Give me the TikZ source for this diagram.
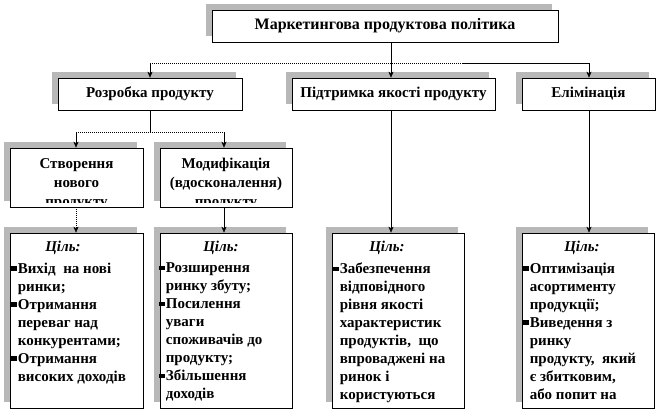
\documentclass[tikz,border=0pt]{standalone}
\usepackage{fontspec}
\setmainfont{Liberation Serif}
\usetikzlibrary{arrows.meta,positioning,shadows}

\newcommand{\boxfont}{\fontsize{15}{18}\selectfont\bfseries}
\newcommand{\topfont}{\fontsize{16}{18}\selectfont\bfseries}
\newcommand{\subfont}{\fontsize{15}{19}\selectfont\bfseries}
\newcommand{\blt}{\llap{\rule[2.5pt]{6pt}{4.5pt}\hspace{1pt}}}

\begin{document}
\begin{tikzpicture}[x=1pt, y=-1pt, >={Stealth[length=6pt,width=5pt]},
    box/.style={draw, line width=0.7pt, fill=white, inner sep=0pt, font=\boxfont,
        drop shadow={shadow xshift=-6pt, shadow yshift=6pt, fill=black!28, opacity=1}},
    head/.style={inner sep=0pt, font=\boxfont\itshape},
    list/.style={inner sep=0pt, align=left, anchor=north west, font=\boxfont},
    dots/.style={dash pattern=on 1pt off 1pt}]
    \useasboundingbox (0,0) rectangle (657,410);

    % top and second level
    \node [box, font=\topfont, minimum width=346pt, minimum height=32pt] (mpp) at (385,26) {Маркетингова продуктова політика};
    \node [box, minimum width=184pt, minimum height=32pt] (dev) at (150,94) {Розробка продукту};
    \node [box, minimum width=203pt, minimum height=32pt] (qual) at (393.5,94) {Підтримка якості продукту};
    \node [box, minimum width=133pt, minimum height=32pt] (elim) at (588.5,94) {Елімінація};

    % third level (text cut by the frame)
    \node [box, minimum width=133pt, minimum height=59pt,
        path picture={\clip ([yshift=5pt]path picture bounding box.south west) rectangle (path picture bounding box.north east);
            \node[inner sep=0pt, align=center, anchor=north, font=\subfont]
            at ([yshift=-6pt]path picture bounding box.north) {Створення\\нового\\продукту};}] (newp) at (76.5,177.5) {};
    \node [box, minimum width=132pt, minimum height=59pt,
        path picture={\clip ([yshift=5pt]path picture bounding box.south west) rectangle (path picture bounding box.north east);
            \node[inner sep=0pt, align=center, anchor=north, font=\subfont]
            at ([yshift=-6pt]path picture bounding box.north) {Модифікація\\(вдосконалення)\\продукту};}] (modp) at (226,177.5) {};

    % goals
    \node [box, minimum width=133pt, minimum height=175pt] (g1) at (76.5,320.5) {};
    \node [box, minimum width=132pt, minimum height=175pt] (g2) at (226,320.5) {};
    \node [box, minimum width=132pt, minimum height=175pt] (g3) at (398,320.5) {};
    \node [box, minimum width=132pt, minimum height=175pt] (g4) at (588,320.5) {};

    \node [head] (g1h) at (63,248) {Ціль:};
    \node [head] (g2h) at (221,248) {Ціль:};
    \node [head] (g3h) at (387,248) {Ціль:};
    \node [head] (g4h) at (582,248) {Ціль:};

    \node [list] (g1t) at ([xshift=8pt, yshift=-30pt]g1.north west)
        {\blt Вихід\ \ на нові\\ринки;\\\blt Отримання\\переваг над\\конкурентами;\\\blt Отримання\\високих доходів};
    \node [list] (g2t) at ([xshift=6pt, yshift=-30pt]g2.north west)
        {\blt Розширення\\ринку збуту;\\\blt Посилення\\уваги\\споживачів до\\продукту;\\\blt Збільшення\\доходів};
    \node [list] (g3t) at ([xshift=8pt, yshift=-30pt]g3.north west)
        {\blt Забезпечення\\відповідного\\рівня якості\\характеристик\\продуктів,\ \ що\\впроваджені на\\ринок і\\користуються};
    \node [list] (g4t) at ([xshift=8pt, yshift=-30pt]g4.north west)
        {\blt Оптимізація\\асортименту\\продукції;\\\blt Виведення з\\ринку\\продукту,\ \ який\\є збитковим,\\або попит на};

    % connectors
    \coordinate (jl) at (150,63);
    \coordinate (jc) at (391,63);
    \coordinate (jm) at (462,63);
    \coordinate (jr) at (589,63);
    \coordinate (jd) at (150,132);
    \coordinate (ja) at (76,132);
    \coordinate (jb) at (224,132);

    \draw (mpp.south -| jc) -- (jc);
    \draw [dots] (jl) -- (jm);
    \draw (jm) -- (jr);
    \draw [->] (jl) -- (dev.north);
    \draw [->] (jc) -- (jc |- qual.north);
    \draw [->] (jr) -- (jr |- elim.north);

    \draw (dev.south) -- (jd);
    \draw [dots] (ja) -- (jb);
    \draw [->] (ja) -- (ja |- newp.north);
    \draw [->] (jb) -- (jb |- modp.north);
    \draw [->, dots] (newp.south -| ja) -- (ja |- g1.north);
    \draw [->] (modp.south -| jb) -- (jb |- g2.north);
    \draw [->] (qual.south -| jc) -- (jc |- g3.north);
    \draw [->] (elim.south -| jr) -- (jr |- g4.north);
\end{tikzpicture}
\end{document}
